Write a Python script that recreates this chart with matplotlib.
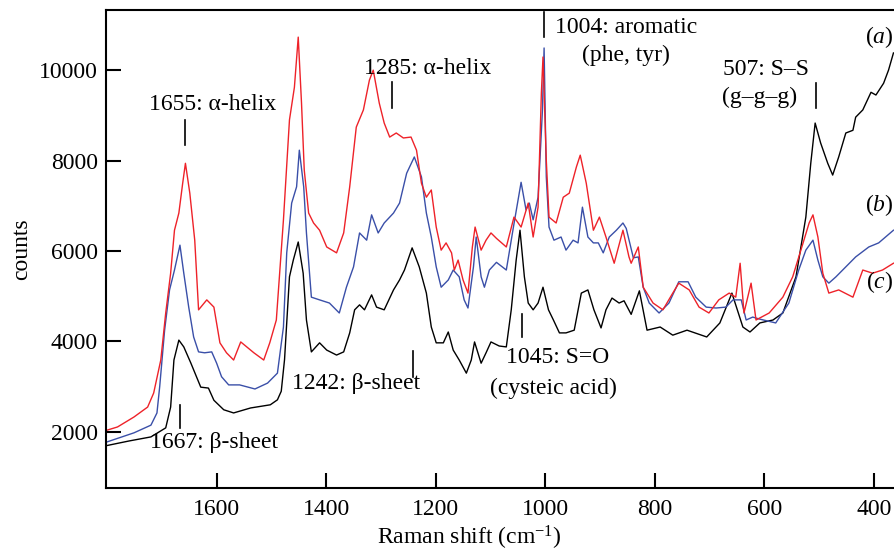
import matplotlib
matplotlib.use("Agg")
import matplotlib.pyplot as plt

plt.rcParams['font.family'] = ['Liberation Serif', 'DejaVu Serif']
plt.rcParams['mathtext.fontset'] = 'custom'
plt.rcParams['mathtext.rm'] = 'Liberation Serif'
plt.rcParams['mathtext.it'] = 'Liberation Serif:italic'

# spectre (a) : noir
shift_a = [1800, 1760, 1720, 1693, 1684, 1678, 1669, 1660, 1647, 1629, 1615, 1605,
           1587, 1569, 1538, 1502, 1489, 1482, 1476, 1467, 1460, 1451, 1442, 1436,
           1427, 1412, 1399, 1381, 1368, 1357, 1348, 1339, 1330, 1317, 1308, 1294,
           1277, 1266, 1257, 1243, 1230, 1217, 1208, 1199, 1186, 1177, 1168, 1157,
           1144, 1135, 1129, 1117, 1108, 1099, 1084, 1071, 1062, 1053, 1046, 1038,
           1031, 1022, 1013, 1004, 994, 985, 974, 962, 947, 934, 922, 911, 898, 889,
           878, 865, 856, 843, 828, 814, 790, 767, 741, 705, 681, 659, 639, 626, 608,
           584, 566, 542, 524, 515, 507, 497, 484, 475, 464, 451, 438, 433, 420, 405,
           396, 382, 373, 364]
counts_a = [1700, 1800, 1890, 2090, 2550, 3590, 4030, 3880, 3520, 2990, 2970, 2700,
            2490, 2420, 2530, 2600, 2710, 2900, 3600, 5430, 5800, 6200, 5510, 4475,
            3770, 3970, 3810, 3700, 3770, 4190, 4700, 4810, 4700, 5030, 4760, 4700,
            5140, 5360, 5580, 6070, 5650, 5070, 4320, 3970, 3970, 4210, 3810, 3590,
            3300, 3590, 3990, 3520, 3750, 3990, 3900, 3880, 4700, 5800, 6460, 5430,
            4850, 4700, 4850, 5200, 4700, 4475, 4190, 4190, 4250, 5070, 5140, 4700, 4300, 4700,
            4960, 4850, 4900, 4600, 5120, 4250, 4320, 4140, 4250, 4100, 4410, 5070, 4320, 4210, 4410,
            4475, 4630, 5430, 6750, 7940, 8830, 8390, 7940, 7680, 8080, 8610, 8670, 8960, 9120, 9510,
            9450, 9710, 10000, 10380]

# spectre (b) : bleu
shift_b = [1800, 1751, 1720, 1709, 1704, 1695, 1686, 1677, 1667, 1660, 1651, 1642,
           1633, 1622, 1609, 1600, 1591, 1578, 1558, 1530, 1507, 1489, 1478, 1472,
           1463, 1454, 1449, 1441, 1436, 1427, 1412, 1394, 1376, 1363, 1350, 1339,
           1326, 1317, 1305, 1294, 1277, 1266, 1253, 1239, 1226, 1217, 1208, 1199,
           1190, 1177, 1168, 1157, 1148, 1141, 1131, 1126, 1117, 1111, 1102, 1089,
           1071, 1058, 1044, 1035, 1029, 1022, 1013, 1005, 1002, 998, 993, 984, 971,
           962, 949, 940, 932, 922, 912, 903, 894, 883, 870, 858, 852, 839, 830, 821,
           810, 792, 774, 756, 739, 725, 706, 688, 670, 657, 642, 633, 621, 610, 579,
           555, 537, 524, 511, 502, 493, 482, 469, 451, 433, 409, 391, 364]
counts_b = [1780, 1980, 2150, 2420, 3000, 4250, 5140, 5580, 6130, 5510, 4760, 4100,
            3770, 3750, 3770, 3520, 3220, 3040, 3040, 2950, 3080, 3300, 4320, 5960,
            7060, 7420, 8230, 7420, 6400, 4980, 4920, 4850, 4630, 5200, 5650, 6400,
            6240, 6800, 6400, 6620, 6840, 7060, 7720, 8080, 7640, 6840, 6310, 5650,
            5200, 5360, 5580, 5430, 4920, 4740, 5650, 6310, 5430, 5200, 5580, 5750,
            5580, 6530, 7520, 6910, 7060, 6690, 7190, 9120, 10490, 7640, 6530, 6240, 6310,
            6020, 6240, 6180, 6970, 6310, 6180, 6180, 5960, 6310, 6460, 6620, 6500, 5850, 5870, 5200,
            4850, 4630, 4850, 5320, 5320, 4980, 4760, 4740, 4760, 4920, 4920, 4475, 4540, 4500, 4410,
            4850, 5580, 6020, 6240, 5800, 5430, 5290, 5430, 5650, 5870, 6090, 6180, 6460]

# spectre (c) : rouge
shift_c = [1800, 1781, 1751, 1726, 1715, 1702, 1693, 1684, 1677, 1669, 1662, 1657,
           1649, 1640, 1633, 1618, 1605, 1594, 1582, 1569, 1556, 1532, 1514, 1503,
           1491, 1478, 1467, 1458, 1451, 1445, 1440, 1432, 1423, 1412, 1399, 1381,
           1368, 1357, 1345, 1332, 1321, 1314, 1303, 1294, 1284, 1272, 1259, 1245,
           1235, 1226, 1217, 1208, 1199, 1190, 1181, 1171, 1166, 1159, 1150, 1141,
           1133, 1128, 1117, 1108, 1099, 1089, 1071, 1057, 1044, 1031, 1022, 1013,
           1007, 1004, 998, 993, 980, 967, 956, 943, 936, 925, 912, 901, 889, 874,
           858, 847, 843, 830, 821, 803, 785, 767, 756, 737, 719, 701, 683, 664, 652,
           644, 637, 624, 615, 591, 566, 548, 529, 518, 511, 502, 493, 482, 464, 438,
           420, 402, 384, 364]
counts_c = [2040, 2110, 2330, 2550, 2860, 3590, 4630, 5510, 6460, 6840, 7500, 7940,
            7280, 6240, 4700, 4920, 4760, 3970, 3750, 3590, 3990, 3750, 3590, 3970,
            4475, 6690, 8900, 9620, 10730, 9270, 7790, 6840, 6620, 6460, 6090, 5960,
            6400, 7420, 8740, 9120, 9780, 10000, 9270, 8830, 8520, 8610, 8500, 8520,
            8230, 7500, 7190, 7350, 6530, 6020, 6180, 5960, 5580, 5800, 5360, 5070,
            6090, 6530, 6020, 6240, 6400, 6280, 6090, 6750, 6530, 7060, 6310, 6970,
            9490, 10290, 8010, 6750, 6620, 7190, 7280, 7860, 8120, 7500, 6460, 6750, 6310, 5730,
            6460, 5870, 5730, 6090, 5200, 4850, 4700, 5070, 5290, 5140, 4760, 4630, 4920, 5070, 4980,
            5730, 4630, 5290, 4475, 4630, 4980, 5430, 6180, 6620, 6800, 6310, 5510, 5070, 5140, 4980,
            5580, 5510, 5580, 5730]

xticks = [1600, 1400, 1200, 1000, 800, 600, 400]
yticks = [2000, 4000, 6000, 8000, 10000]

fig = plt.figure(figsize=(8.94, 5.55), dpi=100)
ax = fig.add_axes([0.1186, 0.1207, 0.8814, 0.8613])

ax.plot(shift_a, counts_a, color='black', lw=1.0)
ax.plot(shift_b, counts_b, color='#3a4fa8', lw=1.0)
ax.plot(shift_c, counts_c, color='#ee2229', lw=1.0)

ax.set_xlim(1802, 363)
ax.set_ylim(760, 11330)
ax.set_xticks(xticks)
ax.set_yticks(yticks)
ax.tick_params(direction='in', length=11, width=1.5, labelsize=17)
ax.tick_params(axis='x', pad=8)
ax.tick_params(axis='y', pad=6)
ax.spines['right'].set_visible(False)
for s in ['left', 'top', 'bottom']:
    ax.spines[s].set_linewidth(1.5)

ax.set_xlabel('Raman shift (cm$^{-1}$)', fontsize=17)
ax.xaxis.set_label_coords(0.4607, -0.074)
ax.set_ylabel('counts', fontsize=17, labelpad=5)

fs = 17
# annotations : texte + petit trait vertical
ax.text(1607, 9230, '1655: α-helix', fontsize=fs, ha='center', va='center')
ax.plot([1658, 1658], [8340, 8900], color='black', lw=1.2)
ax.text(1604, 1757, '1667: β-sheet', fontsize=fs, ha='center', va='center')
ax.plot([1667, 1667], [2090, 2600], color='black', lw=1.2)
ax.text(1215, 10044, '1285: α-helix', fontsize=fs, ha='center', va='center')
ax.plot([1279, 1279], [9160, 9735], color='black', lw=1.2)
ax.text(982, 10950, '1004: aromatic', fontsize=fs, ha='left', va='center')
ax.text(852, 10330, '(phe, tyr)', fontsize=fs, ha='center', va='center')
ax.plot([1002, 1002], [10730, 11280], color='black', lw=1.2)
ax.text(597, 10020, '507: S–S', fontsize=fs, ha='center', va='center')
ax.text(608, 9400, '(g–g–g)', fontsize=fs, ha='center', va='center')
ax.plot([506, 506], [9160, 9710], color='black', lw=1.2)
ax.text(1345, 3080, '1242: β-sheet', fontsize=fs, ha='center', va='center')
ax.plot([1241, 1241], [3215, 3790], color='black', lw=1.2)
ax.text(978, 3635, '1045: S=O', fontsize=fs, ha='center', va='center')
ax.text(985, 2970, '(cysteic acid)', fontsize=fs, ha='center', va='center')
ax.plot([1043, 1043], [4100, 4600], color='black', lw=1.2)

ax.text(389, 10730, '($\\mathit{a}$)', fontsize=fs, ha='center', va='center')
ax.text(389, 7017, '($\\mathit{b}$)', fontsize=fs, ha='center', va='center')
ax.text(389, 5315, '($\\mathit{c}$)', fontsize=fs, ha='center', va='center')

fig.savefig('out.png', dpi=100)
